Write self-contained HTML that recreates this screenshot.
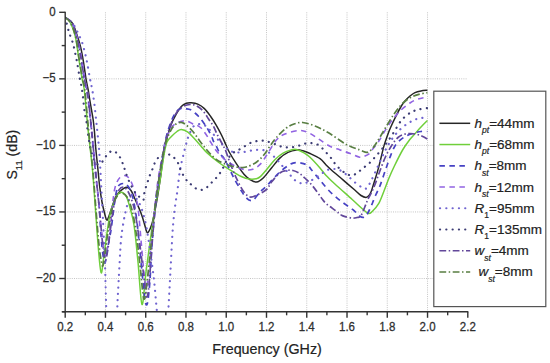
<!DOCTYPE html><html><head><meta charset="utf-8"><style>html,body{margin:0;padding:0;background:#fff;}svg{display:block;}</style></head><body><svg width="550" height="363" viewBox="0 0 550 363">
<rect width="550" height="363" fill="#fff"/>
<g stroke="#c4c4c4" stroke-width="1" stroke-dasharray="1 1.2" fill="none"><line x1="105.46" y1="12.30" x2="105.46" y2="311.80"/><line x1="145.72" y1="12.30" x2="145.72" y2="311.80"/><line x1="185.98" y1="12.30" x2="185.98" y2="311.80"/><line x1="226.24" y1="12.30" x2="226.24" y2="311.80"/><line x1="266.50" y1="12.30" x2="266.50" y2="311.80"/><line x1="306.76" y1="12.30" x2="306.76" y2="311.80"/><line x1="347.02" y1="12.30" x2="347.02" y2="311.80"/><line x1="387.28" y1="12.30" x2="387.28" y2="311.80"/><line x1="427.54" y1="12.30" x2="427.54" y2="311.80"/><line x1="65.20" y1="78.85" x2="467.80" y2="78.85"/><line x1="65.20" y1="145.40" x2="467.80" y2="145.40"/><line x1="65.20" y1="211.95" x2="467.80" y2="211.95"/><line x1="65.20" y1="278.50" x2="467.80" y2="278.50"/></g>
<clipPath id="cp"><rect x="65.2" y="9.3" width="402.6" height="302.5"/></clipPath>
<g clip-path="url(#cp)" fill="none" stroke-linejoin="round">
<path d="M65.20,17.50 C65.83,17.92 67.70,18.90 69.00,20.00 C70.30,21.10 71.60,21.40 73.00,24.10 C74.40,26.80 76.12,32.33 77.40,36.20 C78.68,40.07 79.68,43.00 80.70,47.30 C81.72,51.60 82.62,56.73 83.50,62.00 C84.38,67.27 85.22,74.23 86.00,78.90 C86.78,83.57 87.57,86.48 88.20,90.00 C88.83,93.52 89.25,96.67 89.80,100.00 C90.35,103.33 90.93,106.67 91.50,110.00 C92.07,113.33 92.72,116.50 93.20,120.00 C93.68,123.50 93.98,126.42 94.40,131.00 C94.82,135.58 95.25,142.45 95.70,147.50 C96.15,152.55 96.68,157.22 97.10,161.30 C97.52,165.38 97.78,167.88 98.20,172.00 C98.62,176.12 98.97,181.00 99.60,186.00 C100.23,191.00 101.18,197.50 102.00,202.00 C102.82,206.50 103.72,210.00 104.50,213.00 C105.28,216.00 105.95,219.50 106.70,220.00 C107.45,220.50 107.55,219.75 109.00,216.00 C110.45,212.25 113.48,201.67 115.40,197.50 C117.32,193.33 118.65,192.70 120.50,191.00 C122.35,189.30 124.75,187.38 126.50,187.30 C128.25,187.22 129.58,188.55 131.00,190.50 C132.42,192.45 133.25,195.02 135.00,199.00 C136.75,202.98 139.83,209.90 141.50,214.40 C143.17,218.90 144.05,222.95 145.00,226.00 C145.95,229.05 146.37,232.20 147.20,232.70 C148.03,233.20 149.03,231.12 150.00,229.00 C150.97,226.88 151.70,225.67 153.00,220.00 C154.30,214.33 156.52,202.37 157.80,195.00 C159.08,187.63 159.58,183.80 160.70,175.80 C161.82,167.80 163.23,154.03 164.50,147.00 C165.77,139.97 167.22,137.30 168.30,133.60 C169.38,129.90 169.63,128.12 171.00,124.80 C172.37,121.48 174.78,116.73 176.50,113.70 C178.22,110.67 179.67,108.33 181.30,106.60 C182.93,104.87 184.65,103.93 186.30,103.30 C187.95,102.67 189.28,102.67 191.20,102.80 C193.12,102.93 195.60,103.13 197.80,104.10 C200.00,105.07 202.28,106.57 204.40,108.60 C206.52,110.63 208.52,113.52 210.50,116.30 C212.48,119.08 214.47,122.18 216.30,125.30 C218.13,128.42 219.90,131.75 221.50,135.00 C223.10,138.25 224.62,141.97 225.90,144.80 C227.18,147.63 227.43,148.82 229.20,152.00 C230.97,155.18 234.00,160.15 236.50,163.90 C239.00,167.65 241.95,171.90 244.20,174.50 C246.45,177.10 247.93,178.23 250.00,179.50 C252.07,180.77 254.40,182.35 256.60,182.10 C258.80,181.85 260.72,180.35 263.20,178.00 C265.68,175.65 268.73,171.32 271.50,168.00 C274.27,164.68 277.05,160.70 279.80,158.10 C282.55,155.50 285.25,153.77 288.00,152.40 C290.75,151.03 293.82,150.18 296.30,149.90 C298.78,149.62 300.70,150.15 302.90,150.70 C305.10,151.25 306.65,151.88 309.50,153.20 C312.35,154.52 317.23,156.63 320.00,158.60 C322.77,160.57 324.20,163.10 326.10,165.00 C328.00,166.90 328.58,167.52 331.40,170.00 C334.22,172.48 339.15,176.60 343.00,179.90 C346.85,183.20 351.50,187.20 354.50,189.80 C357.50,192.40 359.08,194.23 361.00,195.50 C362.92,196.77 364.67,197.40 366.00,197.40 C367.33,197.40 368.13,196.48 369.00,195.50 C369.87,194.52 370.53,193.08 371.20,191.50 C371.87,189.92 372.30,188.20 373.00,186.00 C373.70,183.80 374.52,181.20 375.40,178.30 C376.28,175.40 377.33,172.15 378.30,168.60 C379.27,165.05 380.23,160.87 381.20,157.00 C382.17,153.13 382.97,149.25 384.10,145.40 C385.23,141.55 386.88,136.97 388.00,133.90 C389.12,130.83 389.43,130.03 390.80,127.00 C392.17,123.97 394.58,118.95 396.20,115.70 C397.82,112.45 399.12,109.87 400.50,107.50 C401.88,105.13 402.92,103.42 404.50,101.50 C406.08,99.58 408.25,97.48 410.00,96.00 C411.75,94.52 413.17,93.45 415.00,92.60 C416.83,91.75 418.93,91.30 421.00,90.90 C423.07,90.50 426.33,90.32 427.40,90.20" stroke="#262626" stroke-width="1.5" stroke-linecap="butt" opacity="1"/>
<path d="M65.20,17.50 C66.00,18.25 68.33,18.88 70.00,22.00 C71.67,25.12 73.70,29.87 75.20,36.20 C76.70,42.53 77.85,52.88 79.00,60.00 C80.15,67.12 81.22,73.90 82.10,78.90 C82.98,83.90 83.30,81.48 84.30,90.00 C85.30,98.52 86.73,116.67 88.10,130.00 C89.47,143.33 91.27,156.67 92.50,170.00 C93.73,183.33 94.50,196.67 95.50,210.00 C96.50,223.33 97.55,239.53 98.50,250.00 C99.45,260.47 100.28,271.97 101.20,272.80 C102.12,273.63 102.60,264.42 104.00,255.00 C105.40,245.58 107.70,225.65 109.60,216.30 C111.50,206.95 113.58,202.90 115.40,198.90 C117.22,194.90 118.73,192.78 120.50,192.30 C122.27,191.82 124.50,193.72 126.00,196.00 C127.50,198.28 128.17,201.17 129.50,206.00 C130.83,210.83 132.58,215.67 134.00,225.00 C135.42,234.33 136.67,248.75 138.00,262.00 C139.33,275.25 140.67,302.83 142.00,304.50 C143.33,306.17 144.38,284.42 146.00,272.00 C147.62,259.58 150.20,240.57 151.70,230.00 C153.20,219.43 153.65,216.67 155.00,208.60 C156.35,200.53 158.22,191.03 159.80,181.60 C161.38,172.17 163.30,158.60 164.50,152.00 C165.70,145.40 165.85,144.58 167.00,142.00 C168.15,139.42 169.73,138.25 171.40,136.50 C173.07,134.75 175.35,132.67 177.00,131.50 C178.65,130.33 179.48,129.38 181.30,129.50 C183.12,129.62 185.70,130.65 187.90,132.20 C190.10,133.75 192.30,136.47 194.50,138.80 C196.70,141.13 199.08,143.93 201.10,146.20 C203.12,148.47 203.77,149.77 206.60,152.40 C209.43,155.03 214.25,159.12 218.10,162.00 C221.95,164.88 225.83,167.28 229.70,169.70 C233.57,172.12 238.08,174.95 241.30,176.50 C244.52,178.05 246.17,178.75 249.00,179.00 C251.83,179.25 255.38,179.55 258.30,178.00 C261.22,176.45 263.75,172.73 266.50,169.70 C269.25,166.67 272.03,162.55 274.80,159.80 C277.57,157.05 280.35,154.85 283.10,153.20 C285.85,151.55 289.10,150.52 291.30,149.90 C293.50,149.28 294.10,148.95 296.30,149.50 C298.50,150.05 302.22,151.90 304.50,153.20 C306.78,154.50 307.42,154.83 310.00,157.30 C312.58,159.77 317.32,164.95 320.00,168.00 C322.68,171.05 323.62,172.93 326.10,175.60 C328.58,178.27 330.55,180.02 334.90,184.00 C339.25,187.98 347.68,195.42 352.20,199.50 C356.72,203.58 359.32,206.17 362.00,208.50 C364.68,210.83 366.60,213.00 368.30,213.50 C370.00,214.00 370.45,213.20 372.20,211.50 C373.95,209.80 376.83,206.72 378.80,203.30 C380.77,199.88 382.30,195.22 384.00,191.00 C385.70,186.78 387.27,182.17 389.00,178.00 C390.73,173.83 392.13,170.67 394.40,166.00 C396.67,161.33 400.07,154.37 402.60,150.00 C405.13,145.63 407.50,142.55 409.60,139.80 C411.70,137.05 413.30,135.63 415.20,133.50 C417.10,131.37 418.97,129.17 421.00,127.00 C423.03,124.83 426.33,121.58 427.40,120.50" stroke="#6fcf3a" stroke-width="1.5" stroke-linecap="butt" opacity="1"/>
<path d="M65.20,17.50 C66.33,18.42 70.12,19.92 72.00,23.00 C73.88,26.08 75.17,31.17 76.50,36.00 C77.83,40.83 78.72,44.85 80.00,52.00 C81.28,59.15 82.95,71.73 84.20,78.90 C85.45,86.07 86.30,86.48 87.50,95.00 C88.70,103.52 90.12,117.50 91.40,130.00 C92.68,142.50 93.93,157.50 95.20,170.00 C96.47,182.50 98.12,195.33 99.00,205.00 C99.88,214.67 100.00,221.00 100.50,228.00 C101.00,235.00 101.50,242.00 102.00,247.00 C102.50,252.00 103.03,255.33 103.50,258.00 C103.97,260.67 104.38,262.83 104.80,263.00 C105.22,263.17 105.55,261.33 106.00,259.00 C106.45,256.67 106.92,252.50 107.50,249.00 C108.08,245.50 108.92,241.17 109.50,238.00 C110.08,234.83 110.42,233.83 111.00,230.00 C111.58,226.17 112.33,220.17 113.00,215.00 C113.67,209.83 114.27,203.50 115.00,199.00 C115.73,194.50 116.57,190.42 117.40,188.00 C118.23,185.58 118.90,185.25 120.00,184.50 C121.10,183.75 122.83,183.42 124.00,183.50 C125.17,183.58 125.83,183.68 127.00,185.00 C128.17,186.32 129.83,188.40 131.00,191.40 C132.17,194.40 133.00,197.90 134.00,203.00 C135.00,208.10 136.00,213.83 137.00,222.00 C138.00,230.17 139.00,242.00 140.00,252.00 C141.00,262.00 142.17,274.00 143.00,282.00 C143.83,290.00 144.42,296.17 145.00,300.00 C145.58,303.83 146.00,305.00 146.50,305.00 C147.00,305.00 147.42,304.17 148.00,300.00 C148.58,295.83 149.33,289.17 150.00,280.00 C150.67,270.83 151.17,256.67 152.00,245.00 C152.83,233.33 154.00,220.00 155.00,210.00 C156.00,200.00 156.83,193.33 158.00,185.00 C159.17,176.67 160.67,167.83 162.00,160.00 C163.33,152.17 164.50,144.33 166.00,138.00 C167.50,131.67 169.33,126.33 171.00,122.00 C172.67,117.67 174.33,114.25 176.00,112.00 C177.67,109.75 179.33,109.03 181.00,108.50 C182.67,107.97 184.38,108.58 186.00,108.80 C187.62,109.02 189.20,109.10 190.70,109.80 C192.20,110.50 193.67,111.88 195.00,113.00 C196.33,114.12 197.53,115.23 198.70,116.50 C199.87,117.77 200.77,118.95 202.00,120.60 C203.23,122.25 205.00,124.75 206.10,126.40 C207.20,128.05 207.63,128.72 208.60,130.50 C209.57,132.28 211.08,135.30 211.90,137.10 C212.72,138.90 212.68,139.63 213.50,141.30 C214.32,142.97 215.72,144.98 216.80,147.10 C217.88,149.22 218.82,152.17 220.00,154.00 C221.18,155.83 222.40,155.77 223.90,158.10 C225.40,160.43 227.38,164.78 229.00,168.00 C230.62,171.22 231.55,173.58 233.60,177.40 C235.65,181.22 239.05,187.37 241.30,190.90 C243.55,194.43 245.50,196.98 247.10,198.60 C248.70,200.22 249.75,200.45 250.90,200.60 C252.05,200.75 252.50,200.93 254.00,199.50 C255.50,198.07 257.82,194.22 259.90,192.00 C261.98,189.78 264.02,188.68 266.50,186.20 C268.98,183.72 271.77,180.13 274.80,177.10 C277.83,174.07 281.67,170.33 284.70,168.00 C287.73,165.67 290.25,163.92 293.00,163.10 C295.75,162.28 298.72,162.68 301.20,163.10 C303.68,163.52 306.17,164.45 307.90,165.60 C309.63,166.75 309.62,167.62 311.60,170.00 C313.58,172.38 316.77,176.32 319.80,179.90 C322.83,183.48 326.22,187.92 329.80,191.50 C333.38,195.08 337.45,198.37 341.30,201.40 C345.15,204.43 349.87,207.27 352.90,209.70 C355.93,212.13 357.73,214.72 359.50,216.00 C361.27,217.28 362.33,217.57 363.50,217.40 C364.67,217.23 365.52,216.23 366.50,215.00 C367.48,213.77 368.40,212.00 369.40,210.00 C370.40,208.00 371.48,205.42 372.50,203.00 C373.52,200.58 374.27,198.33 375.50,195.50 C376.73,192.67 378.25,190.22 379.90,186.00 C381.55,181.78 383.57,175.40 385.40,170.20 C387.23,165.00 389.07,159.20 390.90,154.80 C392.73,150.40 394.02,146.85 396.40,143.80 C398.78,140.75 402.27,138.30 405.20,136.50 C408.13,134.70 411.37,133.83 414.00,133.00 C416.63,132.17 418.77,131.75 421.00,131.50 C423.23,131.25 426.33,131.50 427.40,131.50" stroke="#4642c4" stroke-width="1.7" stroke-dasharray="5.5 4.5" stroke-linecap="butt" opacity="1"/>
<path d="M65.20,17.50 C66.33,18.42 70.03,19.75 72.00,23.00 C73.97,26.25 75.58,32.17 77.00,37.00 C78.42,41.83 79.20,45.02 80.50,52.00 C81.80,58.98 83.55,71.73 84.80,78.90 C86.05,86.07 86.83,86.48 88.00,95.00 C89.17,103.52 90.55,117.50 91.80,130.00 C93.05,142.50 94.30,157.50 95.50,170.00 C96.70,182.50 97.92,194.17 99.00,205.00 C100.08,215.83 101.17,227.50 102.00,235.00 C102.83,242.50 103.42,246.50 104.00,250.00 C104.58,253.50 105.00,255.83 105.50,256.00 C106.00,256.17 106.25,255.33 107.00,251.00 C107.75,246.67 109.08,237.67 110.00,230.00 C110.92,222.33 111.75,211.67 112.50,205.00 C113.25,198.33 113.75,193.83 114.50,190.00 C115.25,186.17 116.08,184.08 117.00,182.00 C117.92,179.92 118.75,178.58 120.00,177.50 C121.25,176.42 123.08,175.50 124.50,175.50 C125.92,175.50 127.33,176.33 128.50,177.50 C129.67,178.67 130.58,180.50 131.50,182.50 C132.42,184.50 133.25,187.08 134.00,189.50 C134.75,191.92 135.25,193.25 136.00,197.00 C136.75,200.75 137.67,204.83 138.50,212.00 C139.33,219.17 140.17,230.67 141.00,240.00 C141.83,249.33 142.67,260.00 143.50,268.00 C144.33,276.00 145.17,286.83 146.00,288.00 C146.83,289.17 147.50,283.83 148.50,275.00 C149.50,266.17 150.92,246.67 152.00,235.00 C153.08,223.33 154.00,214.17 155.00,205.00 C156.00,195.83 156.83,187.83 158.00,180.00 C159.17,172.17 160.67,164.67 162.00,158.00 C163.33,151.33 164.50,145.00 166.00,140.00 C167.50,135.00 169.17,130.83 171.00,128.00 C172.83,125.17 175.00,124.17 177.00,123.00 C179.00,121.83 181.18,121.27 183.00,121.00 C184.82,120.73 186.25,120.92 187.90,121.40 C189.55,121.88 191.52,123.33 192.90,123.90 C194.28,124.47 194.83,124.12 196.20,124.80 C197.57,125.48 199.73,126.77 201.10,128.00 C202.47,129.23 203.28,130.68 204.40,132.20 C205.52,133.72 206.83,135.58 207.80,137.10 C208.77,138.62 209.00,139.32 210.20,141.30 C211.40,143.28 213.20,146.55 215.00,149.00 C216.80,151.45 218.83,153.83 221.00,156.00 C223.17,158.17 225.50,160.25 228.00,162.00 C230.50,163.75 233.15,165.22 236.00,166.50 C238.85,167.78 242.30,169.23 245.10,169.70 C247.90,170.17 250.22,170.27 252.80,169.30 C255.38,168.33 258.07,166.62 260.60,163.90 C263.13,161.18 265.37,156.98 268.00,153.00 C270.63,149.02 273.57,143.17 276.40,140.00 C279.23,136.83 281.18,135.58 285.00,134.00 C288.82,132.42 295.22,130.63 299.30,130.50 C303.38,130.37 306.10,131.67 309.50,133.20 C312.90,134.73 316.30,137.52 319.70,139.70 C323.10,141.88 326.50,144.60 329.90,146.30 C333.30,148.00 336.70,148.70 340.10,149.90 C343.50,151.10 347.03,152.28 350.30,153.50 C353.57,154.72 357.25,156.78 359.70,157.20 C362.15,157.62 363.37,156.62 365.00,156.00 C366.63,155.38 368.33,154.52 369.50,153.50 C370.67,152.48 370.52,151.83 372.00,149.90 C373.48,147.97 376.28,145.03 378.40,141.90 C380.52,138.77 382.45,134.68 384.70,131.10 C386.95,127.52 389.35,123.75 391.90,120.40 C394.45,117.05 396.98,113.90 400.00,111.00 C403.02,108.10 407.00,105.00 410.00,103.00 C413.00,101.00 415.10,100.00 418.00,99.00 C420.90,98.00 425.83,97.33 427.40,97.00" stroke="#9163e2" stroke-width="1.6" stroke-dasharray="5.5 4.5" stroke-linecap="butt" opacity="1"/>
<path d="M65.20,17.50 C66.32,18.33 70.13,20.67 71.90,22.50 C73.67,24.33 74.67,26.48 75.80,28.50 C76.93,30.52 77.73,32.53 78.70,34.60 C79.67,36.67 80.72,38.50 81.60,40.90 C82.48,43.30 83.10,45.48 84.00,49.00 C84.90,52.52 86.00,57.02 87.00,62.00 C88.00,66.98 89.12,74.23 90.00,78.90 C90.88,83.57 91.55,85.65 92.30,90.00 C93.05,94.35 93.85,99.88 94.50,105.00 C95.15,110.12 95.70,116.02 96.20,120.70 C96.70,125.38 97.08,129.10 97.50,133.10 C97.92,137.10 98.37,140.97 98.70,144.70 C99.03,148.43 99.20,150.95 99.50,155.50 C99.80,160.05 100.18,166.25 100.50,172.00 C100.82,177.75 100.98,182.00 101.40,190.00 C101.82,198.00 102.40,207.50 103.00,220.00 C103.60,232.50 104.50,251.67 105.00,265.00 C105.50,278.33 105.67,290.83 106.00,300.00 C106.33,309.17 106.00,315.00 107.00,320.00 C108.00,325.00 110.42,330.00 112.00,330.00 C113.58,330.00 115.57,325.00 116.50,320.00 C117.43,315.00 117.10,309.17 117.60,300.00 C118.10,290.83 118.93,275.00 119.50,265.00 C120.07,255.00 120.33,247.17 121.00,240.00 C121.67,232.83 122.67,227.00 123.50,222.00 C124.33,217.00 125.08,213.83 126.00,210.00 C126.92,206.17 128.00,201.50 129.00,199.00 C130.00,196.50 130.83,195.17 132.00,195.00 C133.17,194.83 134.50,196.00 136.00,198.00 C137.50,200.00 139.33,202.50 141.00,207.00 C142.67,211.50 144.50,217.83 146.00,225.00 C147.50,232.17 148.67,240.83 150.00,250.00 C151.33,259.17 152.83,269.67 154.00,280.00 C155.17,290.33 156.00,302.83 157.00,312.00 C158.00,321.17 158.50,331.17 160.00,335.00 C161.50,338.83 164.63,338.83 166.00,335.00 C167.37,331.17 167.45,322.83 168.20,312.00 C168.95,301.17 169.75,283.67 170.50,270.00 C171.25,256.33 171.95,240.50 172.70,230.00 C173.45,219.50 174.20,213.67 175.00,207.00 C175.80,200.33 176.67,196.17 177.50,190.00 C178.33,183.83 178.98,176.00 180.00,170.00 C181.02,164.00 182.48,158.67 183.60,154.00 C184.72,149.33 185.80,145.17 186.70,142.00 C187.60,138.83 187.95,137.50 189.00,135.00 C190.05,132.50 191.67,128.75 193.00,127.00 C194.33,125.25 195.37,124.92 197.00,124.50 C198.63,124.08 200.97,123.92 202.80,124.50 C204.63,125.08 206.13,126.25 208.00,128.00 C209.87,129.75 212.00,132.67 214.00,135.00 C216.00,137.33 218.00,139.83 220.00,142.00 C222.00,144.17 224.08,146.42 226.00,148.00 C227.92,149.58 229.45,150.75 231.50,151.50 C233.55,152.25 236.22,152.42 238.30,152.50 C240.38,152.58 241.97,152.32 244.00,152.00 C246.03,151.68 248.45,150.95 250.50,150.60 C252.55,150.25 254.37,150.02 256.30,149.90 C258.23,149.78 260.15,149.55 262.10,149.90 C264.05,150.25 265.88,150.75 268.00,152.00 C270.12,153.25 272.57,155.27 274.80,157.40 C277.03,159.53 278.78,161.80 281.40,164.80 C284.02,167.80 288.07,172.70 290.50,175.40 C292.93,178.10 294.00,179.63 296.00,181.00 C298.00,182.37 300.50,183.43 302.50,183.60 C304.50,183.77 305.98,182.85 308.00,182.00 C310.02,181.15 312.43,179.82 314.60,178.50 C316.77,177.18 318.98,175.47 321.00,174.10 C323.02,172.73 324.70,171.15 326.70,170.30 C328.70,169.45 330.87,169.05 333.00,169.00 C335.13,168.95 337.37,169.15 339.50,170.00 C341.63,170.85 343.80,172.57 345.80,174.10 C347.80,175.63 349.48,177.40 351.50,179.20 C353.52,181.00 355.88,183.47 357.90,184.90 C359.92,186.33 362.08,187.28 363.60,187.80 C365.12,188.32 365.60,189.47 367.00,188.00 C368.40,186.53 370.17,182.67 372.00,179.00 C373.83,175.33 376.00,170.33 378.00,166.00 C380.00,161.67 382.00,157.00 384.00,153.00 C386.00,149.00 388.08,145.08 390.00,142.00 C391.92,138.92 393.70,136.70 395.50,134.50 C397.30,132.30 398.85,130.58 400.80,128.80 C402.75,127.02 405.10,125.22 407.20,123.80 C409.30,122.38 411.32,121.22 413.40,120.30 C415.48,119.38 417.37,118.75 419.70,118.30 C422.03,117.85 426.12,117.72 427.40,117.60" stroke="#7064d0" stroke-width="2.2" stroke-dasharray="0.1 6.2" stroke-linecap="round" opacity="1"/>
<path d="M65.20,17.50 C65.77,19.70 67.70,27.48 68.60,30.70 C69.50,33.92 69.90,34.77 70.60,36.80 C71.30,38.83 72.18,40.88 72.80,42.90 C73.42,44.92 73.60,45.72 74.30,48.90 C75.00,52.08 76.07,57.00 77.00,62.00 C77.93,67.00 79.05,74.23 79.90,78.90 C80.75,83.57 81.32,84.53 82.10,90.00 C82.88,95.47 83.85,106.30 84.60,111.70 C85.35,117.10 86.00,118.55 86.60,122.40 C87.20,126.25 87.57,130.53 88.20,134.80 C88.83,139.07 89.60,144.30 90.40,148.00 C91.20,151.70 92.07,154.50 93.00,157.00 C93.93,159.50 94.92,161.75 96.00,163.00 C97.08,164.25 98.27,164.95 99.50,164.50 C100.73,164.05 102.05,162.03 103.40,160.30 C104.75,158.57 106.00,155.68 107.60,154.10 C109.20,152.52 111.18,150.65 113.00,150.80 C114.82,150.95 117.03,153.25 118.50,155.00 C119.97,156.75 120.88,159.30 121.80,161.30 C122.72,163.30 123.30,164.98 124.00,167.00 C124.70,169.02 125.03,170.77 126.00,173.40 C126.97,176.03 128.13,179.42 129.80,182.80 C131.47,186.18 133.95,191.05 136.00,193.70 C138.05,196.35 140.85,197.65 142.10,198.70 C143.35,199.75 143.13,200.92 143.50,200.00 C143.87,199.08 143.90,195.35 144.30,193.20 C144.70,191.05 145.30,189.12 145.90,187.10 C146.50,185.08 147.25,183.03 147.90,181.10 C148.55,179.17 149.03,177.52 149.80,175.50 C150.57,173.48 151.63,171.17 152.50,169.00 C153.37,166.83 153.92,164.50 155.00,162.50 C156.08,160.50 157.33,158.42 159.00,157.00 C160.67,155.58 162.80,154.17 165.00,154.00 C167.20,153.83 170.05,154.53 172.20,156.00 C174.35,157.47 176.47,160.38 177.90,162.80 C179.33,165.22 179.52,167.80 180.80,170.50 C182.08,173.20 184.22,177.00 185.60,179.00 C186.98,181.00 187.73,181.17 189.10,182.50 C190.47,183.83 192.00,185.75 193.80,187.00 C195.60,188.25 197.87,189.83 199.90,190.00 C201.93,190.17 203.98,189.30 206.00,188.00 C208.02,186.70 209.93,184.32 212.00,182.20 C214.07,180.08 216.53,177.73 218.40,175.30 C220.27,172.87 221.77,170.17 223.20,167.60 C224.63,165.03 225.38,162.32 227.00,159.90 C228.62,157.48 230.98,154.75 232.90,153.10 C234.82,151.45 236.55,151.13 238.50,150.00 C240.45,148.87 242.48,147.53 244.60,146.30 C246.72,145.07 249.02,143.48 251.20,142.60 C253.38,141.72 255.60,141.32 257.70,141.00 C259.80,140.68 261.82,140.50 263.80,140.70 C265.78,140.90 267.53,141.55 269.60,142.20 C271.67,142.85 274.13,143.83 276.20,144.60 C278.27,145.37 280.02,146.32 282.00,146.80 C283.98,147.28 286.03,147.50 288.10,147.50 C290.17,147.50 292.27,147.20 294.40,146.80 C296.53,146.40 298.85,145.70 300.90,145.10 C302.95,144.50 304.77,143.52 306.70,143.20 C308.63,142.88 310.43,142.83 312.50,143.20 C314.57,143.57 317.03,144.07 319.10,145.40 C321.17,146.73 323.00,149.22 324.90,151.20 C326.80,153.18 328.82,155.22 330.50,157.30 C332.18,159.38 333.42,161.75 335.00,163.70 C336.58,165.65 338.17,167.37 340.00,169.00 C341.83,170.63 344.00,172.42 346.00,173.50 C348.00,174.58 350.00,175.72 352.00,175.50 C354.00,175.28 356.07,173.50 358.00,172.20 C359.93,170.90 361.67,169.25 363.60,167.70 C365.53,166.15 367.53,164.85 369.60,162.90 C371.67,160.95 373.93,158.32 376.00,156.00 C378.07,153.68 380.00,151.50 382.00,149.00 C384.00,146.50 386.00,143.83 388.00,141.00 C390.00,138.17 391.92,135.25 394.00,132.00 C396.08,128.75 398.33,124.33 400.50,121.50 C402.67,118.67 404.92,116.68 407.00,115.00 C409.08,113.32 410.95,112.35 413.00,111.40 C415.05,110.45 416.90,109.87 419.30,109.30 C421.70,108.73 426.05,108.22 427.40,108.00" stroke="#3c3c74" stroke-width="2.2" stroke-dasharray="0.1 6.2" stroke-linecap="round" opacity="1"/>
<path d="M65.20,17.50 C66.33,18.42 70.12,19.92 72.00,23.00 C73.88,26.08 75.17,31.17 76.50,36.00 C77.83,40.83 78.68,44.85 80.00,52.00 C81.32,59.15 83.10,71.73 84.40,78.90 C85.70,86.07 86.60,86.48 87.80,95.00 C89.00,103.52 90.33,117.50 91.60,130.00 C92.87,142.50 94.17,157.50 95.40,170.00 C96.63,182.50 97.90,193.67 99.00,205.00 C100.10,216.33 101.17,229.83 102.00,238.00 C102.83,246.17 103.47,250.33 104.00,254.00 C104.53,257.67 104.78,259.50 105.20,260.00 C105.62,260.50 105.95,259.50 106.50,257.00 C107.05,254.50 107.75,250.33 108.50,245.00 C109.25,239.67 109.92,232.50 111.00,225.00 C112.08,217.50 113.67,205.83 115.00,200.00 C116.33,194.17 117.67,192.17 119.00,190.00 C120.33,187.83 121.67,187.00 123.00,187.00 C124.33,187.00 125.67,188.17 127.00,190.00 C128.33,191.83 129.67,194.33 131.00,198.00 C132.33,201.67 133.67,205.33 135.00,212.00 C136.33,218.67 137.67,228.33 139.00,238.00 C140.33,247.67 141.92,261.33 143.00,270.00 C144.08,278.67 144.83,285.50 145.50,290.00 C146.17,294.50 146.42,297.83 147.00,297.00 C147.58,296.17 148.17,293.67 149.00,285.00 C149.83,276.33 151.00,257.50 152.00,245.00 C153.00,232.50 154.00,220.00 155.00,210.00 C156.00,200.00 156.83,193.33 158.00,185.00 C159.17,176.67 160.67,167.50 162.00,160.00 C163.33,152.50 164.50,146.00 166.00,140.00 C167.50,134.00 169.17,128.67 171.00,124.00 C172.83,119.33 175.00,114.92 177.00,112.00 C179.00,109.08 180.83,107.75 183.00,106.50 C185.17,105.25 187.80,104.63 190.00,104.50 C192.20,104.37 194.07,104.67 196.20,105.70 C198.33,106.73 200.73,108.48 202.80,110.70 C204.87,112.92 206.82,116.38 208.60,119.00 C210.38,121.62 211.98,123.65 213.50,126.40 C215.02,129.15 216.18,132.47 217.70,135.50 C219.22,138.53 221.23,141.98 222.60,144.60 C223.97,147.22 224.72,148.30 225.90,151.20 C227.08,154.10 228.02,157.63 229.70,162.00 C231.38,166.37 233.75,172.57 236.00,177.40 C238.25,182.23 240.87,187.73 243.20,191.00 C245.53,194.27 247.70,196.33 250.00,197.00 C252.30,197.67 254.25,196.25 257.00,195.00 C259.75,193.75 264.08,191.67 266.50,189.50 C268.92,187.33 269.28,184.75 271.50,182.00 C273.72,179.25 277.32,174.92 279.80,173.00 C282.28,171.08 284.20,170.92 286.40,170.50 C288.60,170.08 290.80,170.00 293.00,170.50 C295.20,171.00 297.40,172.03 299.60,173.50 C301.80,174.97 303.98,177.17 306.20,179.30 C308.42,181.43 310.42,183.27 312.90,186.30 C315.38,189.33 318.90,194.63 321.10,197.50 C323.30,200.37 323.67,201.30 326.10,203.50 C328.53,205.70 333.00,208.68 335.70,210.70 C338.40,212.72 339.55,214.37 342.30,215.60 C345.05,216.83 349.75,217.78 352.20,218.10 C354.65,218.42 355.57,217.87 357.00,217.50 C358.43,217.13 359.50,217.65 360.80,215.90 C362.10,214.15 363.65,209.70 364.80,207.00 C365.95,204.30 366.67,201.95 367.70,199.70 C368.73,197.45 369.78,196.03 371.00,193.50 C372.22,190.97 373.58,188.08 375.00,184.50 C376.42,180.92 377.77,176.58 379.50,172.00 C381.23,167.42 383.32,161.50 385.40,157.00 C387.48,152.50 389.90,148.25 392.00,145.00 C394.10,141.75 396.00,139.28 398.00,137.50 C400.00,135.72 402.00,134.97 404.00,134.30 C406.00,133.63 407.85,133.50 410.00,133.50 C412.15,133.50 414.87,133.85 416.90,134.30 C418.93,134.75 420.45,135.42 422.20,136.20 C423.95,136.98 426.53,138.53 427.40,139.00" stroke="#62479a" stroke-width="1.7" stroke-dasharray="6.8 2.5 1.5 2.5" stroke-linecap="butt" opacity="1"/>
<path d="M65.20,17.50 C66.00,18.25 68.28,18.88 70.00,22.00 C71.72,25.12 73.95,29.87 75.50,36.20 C77.05,42.53 78.13,52.88 79.30,60.00 C80.47,67.12 81.58,73.90 82.50,78.90 C83.42,83.90 83.78,81.48 84.80,90.00 C85.82,98.52 87.27,116.67 88.60,130.00 C89.93,143.33 91.57,156.67 92.80,170.00 C94.03,183.33 94.97,197.50 96.00,210.00 C97.03,222.50 98.08,236.33 99.00,245.00 C99.92,253.67 100.87,258.50 101.50,262.00 C102.13,265.50 102.33,266.50 102.80,266.00 C103.27,265.50 103.43,264.67 104.30,259.00 C105.17,253.33 106.55,241.00 108.00,232.00 C109.45,223.00 111.33,211.17 113.00,205.00 C114.67,198.83 116.50,197.00 118.00,195.00 C119.50,193.00 120.50,192.67 122.00,193.00 C123.50,193.33 125.33,194.17 127.00,197.00 C128.67,199.83 130.50,204.17 132.00,210.00 C133.50,215.83 134.67,222.83 136.00,232.00 C137.33,241.17 138.92,255.33 140.00,265.00 C141.08,274.67 141.83,284.33 142.50,290.00 C143.17,295.67 143.45,298.67 144.00,299.00 C144.55,299.33 144.80,299.33 145.80,292.00 C146.80,284.67 148.63,267.83 150.00,255.00 C151.37,242.17 152.67,226.67 154.00,215.00 C155.33,203.33 156.67,194.17 158.00,185.00 C159.33,175.83 160.67,167.17 162.00,160.00 C163.33,152.83 164.50,147.00 166.00,142.00 C167.50,137.00 169.33,133.00 171.00,130.00 C172.67,127.00 174.28,125.28 176.00,124.00 C177.72,122.72 179.63,122.17 181.30,122.30 C182.97,122.43 184.07,123.27 186.00,124.80 C187.93,126.33 190.78,129.05 192.90,131.50 C195.02,133.95 196.85,137.00 198.70,139.50 C200.55,142.00 202.12,144.17 204.00,146.50 C205.88,148.83 207.83,151.25 210.00,153.50 C212.17,155.75 214.37,158.22 217.00,160.00 C219.63,161.78 223.13,163.12 225.80,164.20 C228.47,165.28 230.42,165.95 233.00,166.50 C235.58,167.05 238.95,167.45 241.30,167.50 C243.65,167.55 244.53,167.72 247.10,166.80 C249.67,165.88 253.82,164.08 256.70,162.00 C259.58,159.92 262.18,156.97 264.40,154.30 C266.62,151.63 268.07,148.72 270.00,146.00 C271.93,143.28 273.32,140.98 276.00,138.00 C278.68,135.02 283.10,130.43 286.10,128.10 C289.10,125.77 291.25,124.93 294.00,124.00 C296.75,123.07 299.10,122.17 302.60,122.50 C306.10,122.83 310.60,124.23 315.00,126.00 C319.40,127.77 323.77,130.02 329.00,133.10 C334.23,136.18 341.23,141.68 346.40,144.50 C351.57,147.32 356.57,148.68 360.00,150.00 C363.43,151.32 365.00,152.57 367.00,152.40 C369.00,152.23 370.33,150.73 372.00,149.00 C373.67,147.27 375.17,144.83 377.00,142.00 C378.83,139.17 380.72,135.82 383.00,132.00 C385.28,128.18 388.73,122.28 390.70,119.10 C392.67,115.92 393.55,114.68 394.80,112.90 C396.05,111.12 396.82,110.05 398.20,108.40 C399.58,106.75 401.13,104.77 403.10,103.00 C405.07,101.23 407.52,99.20 410.00,97.80 C412.48,96.40 415.10,95.47 418.00,94.60 C420.90,93.73 425.83,92.93 427.40,92.60" stroke="#587e42" stroke-width="1.7" stroke-dasharray="6.8 2.5 1.5 2.5" stroke-linecap="butt" opacity="1"/>
</g>
<g stroke="#333" stroke-width="1.4" fill="none"><line x1="65.20" y1="11.80" x2="65.20" y2="312.30"/><line x1="62.20" y1="311.80" x2="468.30" y2="311.80"/><line x1="65.20" y1="311.80" x2="65.20" y2="317.80"/><line x1="85.33" y1="311.80" x2="85.33" y2="315.30"/><line x1="105.46" y1="311.80" x2="105.46" y2="317.80"/><line x1="125.59" y1="311.80" x2="125.59" y2="315.30"/><line x1="145.72" y1="311.80" x2="145.72" y2="317.80"/><line x1="165.85" y1="311.80" x2="165.85" y2="315.30"/><line x1="185.98" y1="311.80" x2="185.98" y2="317.80"/><line x1="206.11" y1="311.80" x2="206.11" y2="315.30"/><line x1="226.24" y1="311.80" x2="226.24" y2="317.80"/><line x1="246.37" y1="311.80" x2="246.37" y2="315.30"/><line x1="266.50" y1="311.80" x2="266.50" y2="317.80"/><line x1="286.63" y1="311.80" x2="286.63" y2="315.30"/><line x1="306.76" y1="311.80" x2="306.76" y2="317.80"/><line x1="326.89" y1="311.80" x2="326.89" y2="315.30"/><line x1="347.02" y1="311.80" x2="347.02" y2="317.80"/><line x1="367.15" y1="311.80" x2="367.15" y2="315.30"/><line x1="387.28" y1="311.80" x2="387.28" y2="317.80"/><line x1="407.41" y1="311.80" x2="407.41" y2="315.30"/><line x1="427.54" y1="311.80" x2="427.54" y2="317.80"/><line x1="447.67" y1="311.80" x2="447.67" y2="315.30"/><line x1="467.80" y1="311.80" x2="467.80" y2="317.80"/><line x1="59.20" y1="12.30" x2="65.20" y2="12.30"/><line x1="61.70" y1="45.58" x2="65.20" y2="45.58"/><line x1="59.20" y1="78.85" x2="65.20" y2="78.85"/><line x1="61.70" y1="112.12" x2="65.20" y2="112.12"/><line x1="59.20" y1="145.40" x2="65.20" y2="145.40"/><line x1="61.70" y1="178.68" x2="65.20" y2="178.68"/><line x1="59.20" y1="211.95" x2="65.20" y2="211.95"/><line x1="61.70" y1="245.23" x2="65.20" y2="245.23"/><line x1="59.20" y1="278.50" x2="65.20" y2="278.50"/><line x1="61.70" y1="311.78" x2="65.20" y2="311.78"/></g>
<g font-family="Liberation Sans, sans-serif" font-size="11.5" fill="#2e2e2e" stroke="#2e2e2e" stroke-width="0.25"><text transform="translate(65.20,330.9) scale(1,1.1)" text-anchor="middle">0.2</text><text transform="translate(105.46,330.9) scale(1,1.1)" text-anchor="middle">0.4</text><text transform="translate(145.72,330.9) scale(1,1.1)" text-anchor="middle">0.6</text><text transform="translate(185.98,330.9) scale(1,1.1)" text-anchor="middle">0.8</text><text transform="translate(226.24,330.9) scale(1,1.1)" text-anchor="middle">1.0</text><text transform="translate(266.50,330.9) scale(1,1.1)" text-anchor="middle">1.2</text><text transform="translate(306.76,330.9) scale(1,1.1)" text-anchor="middle">1.4</text><text transform="translate(347.02,330.9) scale(1,1.1)" text-anchor="middle">1.6</text><text transform="translate(387.28,330.9) scale(1,1.1)" text-anchor="middle">1.8</text><text transform="translate(427.54,330.9) scale(1,1.1)" text-anchor="middle">2.0</text><text transform="translate(467.80,330.9) scale(1,1.1)" text-anchor="middle">2.2</text><text transform="translate(55.6,15.50) scale(1,1.1)" text-anchor="end">0</text><text transform="translate(55.6,82.05) scale(1,1.1)" text-anchor="end">−5</text><text transform="translate(55.6,148.60) scale(1,1.1)" text-anchor="end">−10</text><text transform="translate(55.6,215.15) scale(1,1.1)" text-anchor="end">−15</text><text transform="translate(55.6,281.70) scale(1,1.1)" text-anchor="end">−20</text></g>
<text x="212.2" y="354.3" font-family="Liberation Sans, sans-serif" font-size="14.3" fill="#222" stroke="#222" stroke-width="0.2">Frequency (GHz)</text>
<g transform="translate(16.6,179.6) rotate(-90)"><text x="0" y="0" font-family="Liberation Sans, sans-serif" font-size="14.1" fill="#222" stroke="#222" stroke-width="0.2">S<tspan font-size="9.5" dy="5.5">11</tspan><tspan dy="-5.5"> (dB)</tspan></text></g>
<rect x="433.8" y="91.2" width="111.99999999999994" height="215.40000000000003" fill="#fff" stroke="#555" stroke-width="1.2"/>
<line x1="439.4" y1="123.30" x2="470.2" y2="123.30" stroke="#262626" stroke-width="1.5" stroke-linecap="butt"/>
<text x="474.5" y="127.80" font-family="Liberation Sans, sans-serif" font-size="13.5" fill="#222" stroke="#222" stroke-width="0.2"><tspan font-style="italic">h</tspan><tspan font-size="8.6" dy="5.4" font-style="italic">pt</tspan><tspan dy="-5.4">=44mm</tspan></text>
<line x1="439.4" y1="144.54" x2="470.2" y2="144.54" stroke="#6fcf3a" stroke-width="1.5" stroke-linecap="butt"/>
<text x="474.5" y="149.04" font-family="Liberation Sans, sans-serif" font-size="13.5" fill="#222" stroke="#222" stroke-width="0.2"><tspan font-style="italic">h</tspan><tspan font-size="8.6" dy="5.4" font-style="italic">pt</tspan><tspan dy="-5.4">=68mm</tspan></text>
<line x1="439.4" y1="165.78" x2="466" y2="165.78" stroke="#4642c4" stroke-width="1.7" stroke-dasharray="5.5 4.5" stroke-linecap="butt"/>
<text x="474.5" y="170.28" font-family="Liberation Sans, sans-serif" font-size="13.5" fill="#222" stroke="#222" stroke-width="0.2"><tspan font-style="italic">h</tspan><tspan font-size="8.6" dy="5.4" font-style="italic">st</tspan><tspan dy="-5.4">=8mm</tspan></text>
<line x1="439.4" y1="187.02" x2="466" y2="187.02" stroke="#9163e2" stroke-width="1.6" stroke-dasharray="5.5 4.5" stroke-linecap="butt"/>
<text x="474.5" y="191.52" font-family="Liberation Sans, sans-serif" font-size="13.5" fill="#222" stroke="#222" stroke-width="0.2"><tspan font-style="italic">h</tspan><tspan font-size="8.6" dy="5.4" font-style="italic">st</tspan><tspan dy="-5.4">=12mm</tspan></text>
<line x1="440" y1="208.26" x2="466" y2="208.26" stroke="#7064d0" stroke-width="2.2" stroke-dasharray="0.1 6.2" stroke-linecap="round"/>
<text x="474.5" y="212.76" font-family="Liberation Sans, sans-serif" font-size="13.5" fill="#222" stroke="#222" stroke-width="0.2"><tspan font-style="italic">R</tspan><tspan font-size="8.6" dy="5.4" >1</tspan><tspan dy="-5.4">=95mm</tspan></text>
<line x1="440" y1="229.50" x2="466" y2="229.50" stroke="#3c3c74" stroke-width="2.2" stroke-dasharray="0.1 6.2" stroke-linecap="round"/>
<text x="474.5" y="234.00" font-family="Liberation Sans, sans-serif" font-size="13.5" fill="#222" stroke="#222" stroke-width="0.2"><tspan font-style="italic">R</tspan><tspan font-size="8.6" dy="5.4" >1</tspan><tspan dy="-5.4">=135mm</tspan></text>
<line x1="439.4" y1="250.74" x2="470.2" y2="250.74" stroke="#62479a" stroke-width="1.7" stroke-dasharray="6.8 2.5 1.5 2.5" stroke-linecap="butt"/>
<text x="474.5" y="255.24" font-family="Liberation Sans, sans-serif" font-size="13.5" fill="#222" stroke="#222" stroke-width="0.2"><tspan font-style="italic">w</tspan><tspan font-size="8.6" dy="5.4" font-style="italic">st</tspan><tspan dy="-5.4">=4mm</tspan></text>
<line x1="439.4" y1="271.98" x2="470.2" y2="271.98" stroke="#587e42" stroke-width="1.7" stroke-dasharray="6.8 2.5 1.5 2.5" stroke-linecap="butt"/>
<text x="478.4" y="276.48" font-family="Liberation Sans, sans-serif" font-size="13.5" fill="#222" stroke="#222" stroke-width="0.2"><tspan font-style="italic">w</tspan><tspan font-size="8.6" dy="5.4" font-style="italic">st</tspan><tspan dy="-5.4">=8mm</tspan></text>
</svg></body></html>
